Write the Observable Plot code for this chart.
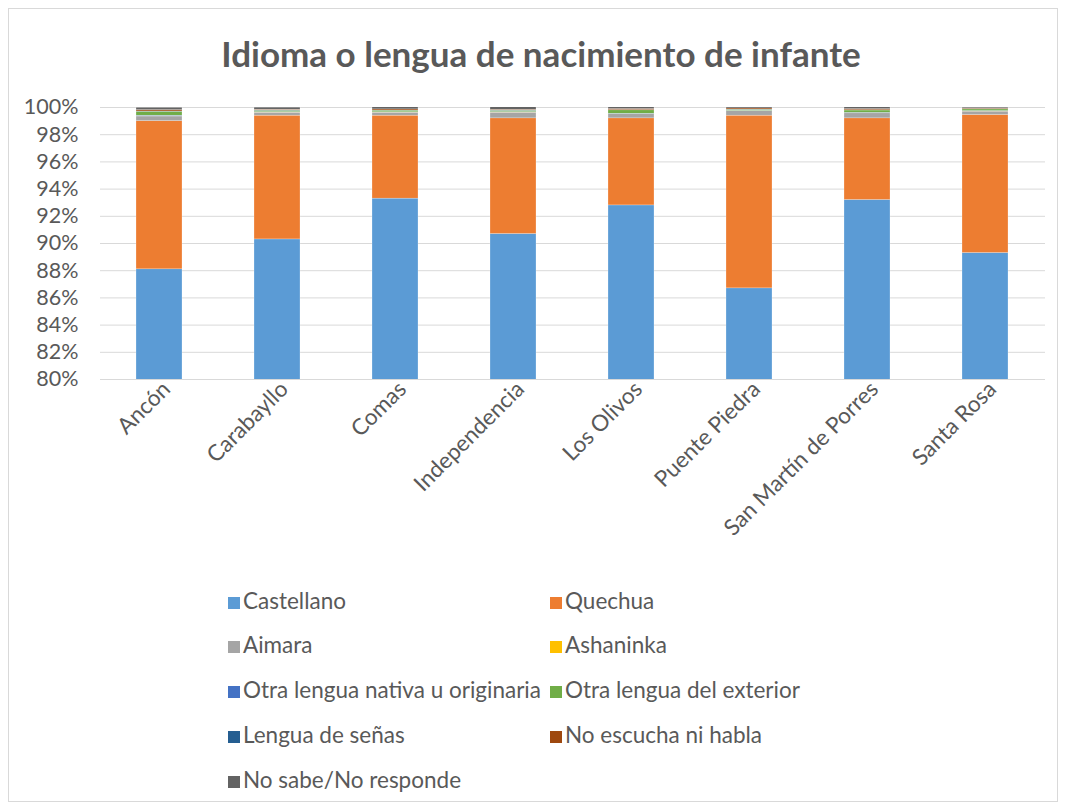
<!DOCTYPE html>
<html>
<head>
<meta charset="utf-8">
<script src="https://cdn.jsdelivr.net/npm/d3@7"></script>
<script src="https://cdn.jsdelivr.net/npm/@observablehq/plot@0.6"></script>
<style>
  body { margin: 0; background: #fff; font-family: Lato, "Open Sans", sans-serif; }
  #frame { position: relative; width: 1065px; height: 809px; overflow: hidden; }
  #border { position: absolute; left: 8px; top: 8px; width: 1048px; height: 792px; border: 1px solid #d9d9d9; }
  #title { position: absolute; left: 0; width: 1082px; top: 31px; text-align: center; font-size: 35px; font-weight: bold; color: #595959; line-height: 44px; }
  #chart { position: absolute; left: 0; top: 80px; }
  .leg { position: absolute; font-size: 22.5px; color: #595959; white-space: nowrap; line-height: 24px; }
  .leg span.sw { display: inline-block; width: 12px; height: 12px; margin-right: 3px; vertical-align: 0px; }
</style>
</head>
<body>
<div id="frame">
  <div id="border"></div>
  <div id="title">Idioma o lengua de nacimiento de infante</div>
  <div id="chart"></div>
  <div id="legend"></div>
</div>
<script>
const districts = ["Ancón", "Carabayllo", "Comas", "Independencia", "Los Olivos", "Puente Piedra", "San Martín de Porres", "Santa Rosa"];
const seriesNames = ["Castellano", "Quechua", "Aimara", "Ashaninka", "Otra lengua nativa u originaria", "Otra lengua del exterior", "Lengua de señas", "No escucha ni habla", "No sabe/No responde"];
const seriesColors = ["#5B9BD5", "#ED7D31", "#A5A5A5", "#FFC000", "#4472C4", "#70AD47", "#255E91", "#9E480E", "#636363"];

const castellano   = [88.1, 90.3, 93.3, 90.7, 92.8, 86.7, 93.2, 89.3];
const quechua      = [10.9, 9.1, 6.1, 8.5, 6.4, 12.7, 6.0, 10.15];
const aimara       = [0.34, 0.22, 0.22, 0.42, 0.30, 0.32, 0.37, 0.25];
const ashaninka    = [0.01, 0.01, 0.01, 0.01, 0.01, 0.01, 0.01, 0.01];
const otraNativa   = [0.05, 0.03, 0.02, 0.03, 0.03, 0.02, 0.03, 0.03];
const otraExterior = [0.29, 0.10, 0.12, 0.10, 0.25, 0.08, 0.17, 0.12];
const senas        = [0.02, 0.03, 0.01, 0.02, 0.02, 0.02, 0.02, 0.03];
const noEscucha    = [0.10, 0.05, 0.08, 0.05, 0.08, 0.08, 0.08, 0.05];
const noSabe       = [0.17, 0.15, 0.17, 0.20, 0.17, 0.12, 0.17, 0.12];
const yTicks = [80, 82, 84, 86, 88, 90, 92, 94, 96, 98, 100];

const seriesValues = [castellano, quechua, aimara, ashaninka, otraNativa, otraExterior, senas, noEscucha, noSabe];
const rows = [];
seriesNames.forEach((s, si) => districts.forEach((d, di) => rows.push({district: d, series: s, value: seriesValues[si][di]})));

const font = "Lato, 'Open Sans', sans-serif";
const chart = Plot.plot({
  width: 1065,
  height: 490,
  marginLeft: 100,
  marginRight: 20,
  marginTop: 27,
  marginBottom: 191,
  style: {fontFamily: font, fontSize: "21.5px", color: "#595959", background: "transparent"},
  x: {domain: districts, label: null, paddingInner: 0.61, paddingOuter: 0.305},
  y: {domain: [80, 100], label: null},
  color: {domain: seriesNames, range: seriesColors},
  marks: [
    Plot.gridY(yTicks, {stroke: "#d9d9d9", strokeOpacity: 1, strokeWidth: 1}),
    Plot.axisY(yTicks, {tickSize: 0, tickPadding: 22, tickFormat: d => d + "%", label: null, fill: "#595959", fontSize: 21.5}),
    Plot.axisX({tickSize: 0, tickRotate: -45, tickPadding: 6, dx: 7, label: null, fill: "#595959", fontSize: 22.5}),
    Plot.barY(rows, {x: "district", y: "value", fill: "series", order: seriesNames, clip: true, stroke: "white", strokeWidth: 0.4, strokeOpacity: 0.6})
  ]
});
document.getElementById("chart").appendChild(chart);

const legend = document.getElementById("legend");
const colX = [228, 550];
const rowY = [589, 633, 678, 723, 768];
seriesNames.forEach((s, i) => {
  const el = document.createElement("div");
  el.className = "leg";
  el.style.left = colX[i % 2] + "px";
  el.style.top = rowY[Math.floor(i / 2)] + "px";
  el.innerHTML = `<span class="sw" style="background:${seriesColors[i]}"></span>${s}`;
  legend.appendChild(el);
});
</script>
</body>
</html>
